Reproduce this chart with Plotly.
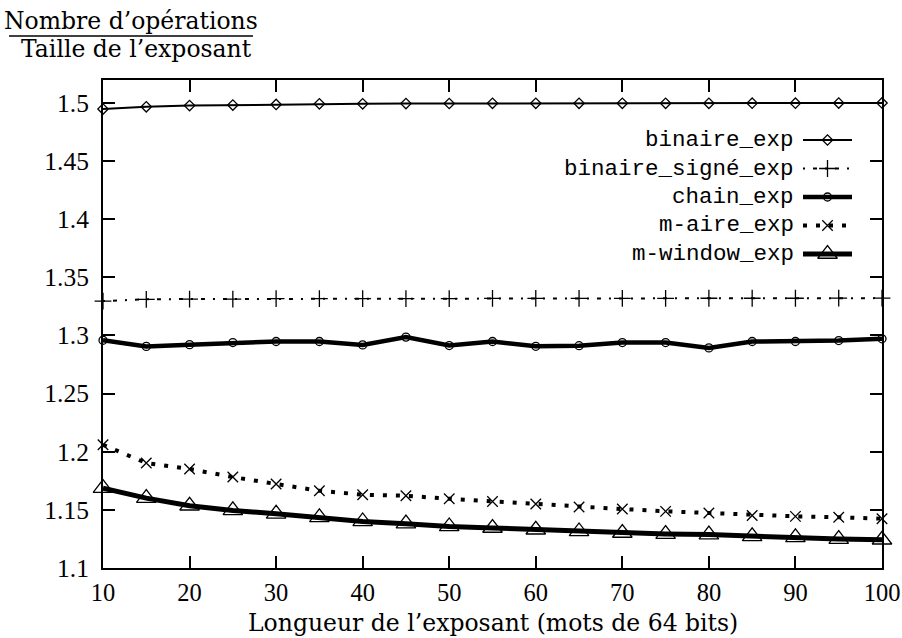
import plotly.graph_objects as go

# ---------------- data ----------------
x_words = [10, 15, 20, 25, 30, 35, 40, 45, 50, 55, 60, 65, 70, 75, 80, 85, 90, 95, 100]

binaire_exp = [1.4945, 1.4965, 1.4975, 1.4980, 1.4985, 1.4990, 1.4990, 1.4992, 1.4993, 1.4995,
               1.4995, 1.4995, 1.4995, 1.4995, 1.4995, 1.4996, 1.4996, 1.4997, 1.4998]
binaire_signe_exp = [1.3295, 1.3310, 1.3312, 1.3312, 1.3315, 1.3315, 1.3315, 1.3316, 1.3316, 1.3318,
                     1.3318, 1.3318, 1.3318, 1.3318, 1.3319, 1.3319, 1.3319, 1.3320, 1.3320]
chain_exp = [1.2958, 1.2905, 1.2920, 1.2938, 1.2947, 1.2947, 1.2918, 1.2985, 1.2912, 1.2947,
             1.2906, 1.2911, 1.2938, 1.2938, 1.2892, 1.2947, 1.2947, 1.2955, 1.2970]
m_aire_exp = [1.2059, 1.1902, 1.1851, 1.1782, 1.1722, 1.1664, 1.1630, 1.1621, 1.1595, 1.1572,
              1.1550, 1.1524, 1.1507, 1.1487, 1.1473, 1.1452, 1.1444, 1.1436, 1.1424]
m_window_exp = [1.1687, 1.1601, 1.1535, 1.1495, 1.1466, 1.1435, 1.1400, 1.1381, 1.1357, 1.1344,
                1.1329, 1.1314, 1.1301, 1.1292, 1.1287, 1.1272, 1.1263, 1.1249, 1.1243]

series_names = ["binaire_exp", "binaire_signé_exp", "chain_exp", "m-aire_exp", "m-window_exp"]
x_ticks = [10, 20, 30, 40, 50, 60, 70, 80, 90, 100]
y_ticks = [1.1, 1.15, 1.2, 1.25, 1.3, 1.35, 1.4, 1.45, 1.5]
y_tick_labels = ["1.1", "1.15", "1.2", "1.25", "1.3", "1.35", "1.4", "1.45", "1.5"]

# ---------------- styles ----------------
W, H = 902, 638
ML, MR, MT, MB = 103, 20, 80, 70
PW, PH = W - ML - MR, H - MT - MB

styles = [
    dict(line=dict(color="black", width=2), marker=dict(symbol="diamond-open", size=8, color="black", line=dict(width=1.3, color="black"))),
    dict(line=dict(color="black", width=2, dash="2px,8px,4px,8px"), marker=dict(symbol="cross-thin", size=12, color="black", line=dict(width=1.3, color="black"))),
    dict(line=dict(color="black", width=4.5), marker=dict(symbol="circle-open", size=8, color="black", line=dict(width=1.3, color="black"))),
    dict(line=dict(color="black", width=4, dash="4px,9px"), marker=dict(symbol="x-thin", size=10.5, color="black", line=dict(width=1.3, color="black"))),
    dict(line=dict(color="black", width=5), marker=dict(symbol="triangle-up-open", size=17, color="black", line=dict(width=1.3, color="black"))),
]

serif = "Liberation Serif"
title_serif = "DejaVu Serif"
mono = "Liberation Mono"


def px_to_paper_x(px):
    return (px - ML) / PW


def px_to_paper_y(py):
    return (H - MB - py) / PH


fig = go.Figure()
all_series = [binaire_exp, binaire_signe_exp, chain_exp, m_aire_exp, m_window_exp]
for name, ys, st in zip(series_names, all_series, styles):
    fig.add_trace(go.Scatter(x=x_words, y=ys, mode="lines+markers", name=name,
                             line=st["line"], marker=st["marker"], showlegend=False,
                             cliponaxis=False))

# ---------------- manual legend (gnuplot style: text then sample) ----------------
leg_text_right = px_to_paper_x(795)
leg_x0, leg_x1, leg_xm = px_to_paper_x(803), px_to_paper_x(852), px_to_paper_x(827.5)
leg_rows = [140 + 28.5 * i for i in range(5)]

for i, (name, st) in enumerate(zip(series_names, styles)):
    yy = px_to_paper_y(leg_rows[i])
    fig.add_trace(go.Scatter(x=[leg_x0, leg_x1], y=[yy, yy], mode="lines", line=st["line"],
                             xaxis="x2", yaxis="y2", showlegend=False, hoverinfo="skip"))
    fig.add_trace(go.Scatter(x=[leg_xm], y=[yy], mode="markers", marker=st["marker"],
                             xaxis="x2", yaxis="y2", showlegend=False, hoverinfo="skip"))
    fig.add_annotation(x=leg_text_right, y=yy, xref="paper", yref="paper", text=name,
                       showarrow=False, xanchor="right", yanchor="middle", borderpad=0,
                       font=dict(family=mono, size=22.5, color="black"))

# ---------------- y-axis fraction title ----------------
fig.add_annotation(x=px_to_paper_x(131), y=px_to_paper_y(21), xref="paper", yref="paper",
                   text="Nombre d’opérations", showarrow=False, xanchor="center", yanchor="middle",
                   font=dict(family=title_serif, size=23.5, color="black"))
fig.add_annotation(x=px_to_paper_x(136), y=px_to_paper_y(49), xref="paper", yref="paper",
                   text="Taille de l’exposant", showarrow=False, xanchor="center", yanchor="middle",
                   font=dict(family=title_serif, size=23.5, color="black"))

# x title
fig.add_annotation(x=0.5, y=px_to_paper_y(623), xref="paper", yref="paper",
                   text="Longueur de l’exposant (mots de 64 bits)", showarrow=False,
                   xanchor="center", yanchor="middle", borderpad=0,
                   font=dict(family=title_serif, size=23.5, color="black"))

fig.update_layout(
    width=W, height=H,
    margin=dict(l=ML, r=MR, t=MT, b=MB, pad=0, autoexpand=False),
    paper_bgcolor="white", plot_bgcolor="white",
    font=dict(family=serif, size=25, color="black"),
    shapes=[dict(type="line", xref="paper", yref="paper",
                 x0=px_to_paper_x(9), x1=px_to_paper_x(253),
                 y0=px_to_paper_y(36), y1=px_to_paper_y(36),
                 line=dict(color="black", width=1.5))],
    xaxis=dict(range=[10, 100], tickvals=x_ticks, ticks="inside", ticklen=12, tickwidth=2,
               tickcolor="black", showline=True, linecolor="black", linewidth=2, mirror="ticks",
               showgrid=False, zeroline=False, ticklabelstandoff=2, automargin=False,
               tickfont=dict(family=serif, size=24.5, color="black")),
    yaxis=dict(range=[1.1, 1.5195], tickvals=y_ticks, ticktext=y_tick_labels, ticks="inside",
               ticklen=12, tickwidth=2, tickcolor="black", showline=True, linecolor="black",
               linewidth=2, mirror="ticks", showgrid=False, zeroline=False, ticklabelstandoff=7,
               automargin=False, tickfont=dict(family=serif, size=25.5, color="black")),
    xaxis2=dict(range=[0, 1], overlaying="x", visible=False, fixedrange=True),
    yaxis2=dict(range=[0, 1], overlaying="y", visible=False, fixedrange=True),
    showlegend=False,
)

fig.write_html("out.html")
